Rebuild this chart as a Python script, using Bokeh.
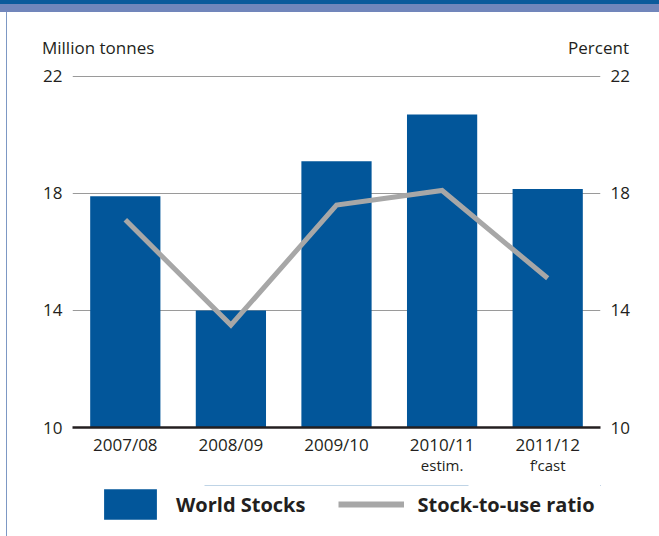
from bokeh.plotting import figure
from bokeh.models import (Range1d, LinearAxis, FixedTicker, Legend,
                          LegendItem, Div)
from bokeh.layouts import column
from bokeh.embed import file_html
from bokeh.resources import INLINE

# ---- data ----
seasons = ["2007/08", "2008/09", "2009/10", "2010/11", "2011/12"]
season_notes = ["", "", "", "estim.", "f\u2019cast"]
world_stocks = [17.9, 14.0, 19.1, 20.7, 18.15]         # million tonnes
stock_to_use = [17.1, 13.5, 17.6, 18.1, 15.1]          # percent
y_ticks = [10, 14, 18, 22]
left_title = "Million tonnes"
right_title = "Percent"
legend_labels = ["World Stocks", "Stock-to-use ratio"]

FONT = "Open Sans"
TXT = "#231f20"
BLUE = "#02569a"
GREY = "#a7a7a7"

# category slots: season i occupies [i, i+1] on the x scale
x_pos = [i + 0.5 for i in range(len(seasons))]

# ---- header (axis titles) ----
header = Div(
    text=(f'<div style="position:relative;width:659px;height:60px;font-family:\'{FONT}\';'
          f'font-size:17px;color:{TXT};white-space:nowrap;">'
          f'<span style="position:absolute;left:42px;top:38px;line-height:20px;">{left_title}</span>'
          f'<span style="position:absolute;right:30px;top:38px;line-height:20px;">{right_title}</span>'
          '</div>'),
    width=659, height=60, margin=0)

# ---- chart ----
p = figure(width=659, height=425, output_backend="svg", toolbar_location=None,
           x_range=Range1d(0, len(seasons)),
           y_range=Range1d(10, 22.03),
           min_border_left=72, min_border_right=59, min_border_top=15, min_border_bottom=58,
           margin=0)
p.outline_line_color = None
p.border_fill_color = None
p.xgrid.grid_line_color = None
p.ygrid.ticker = FixedTicker(ticks=y_ticks)
p.ygrid.grid_line_color = "#9a9a9a"
p.ygrid.grid_line_width = 1

p.extra_y_ranges = {"pct": Range1d(10, 22.03)}

bars = p.vbar(x=x_pos, top=world_stocks, bottom=10, width=0.665,
              fill_color=BLUE, line_color=None)
line = p.line(x=x_pos, y=stock_to_use, y_range_name="pct",
              line_color=GREY, line_width=5, line_join="miter")

# y axes
yl = p.yaxis[0]
yl.ticker = FixedTicker(ticks=y_ticks)
yr = LinearAxis(y_range_name="pct", ticker=FixedTicker(ticks=y_ticks))
p.add_layout(yr, "right")
for ax in (yl, yr):
    ax.axis_line_color = None
    ax.major_tick_line_color = None
    ax.minor_tick_line_color = None
    ax.major_tick_out = 0
    ax.major_label_text_font = FONT
    ax.major_label_text_font_size = "17px"
    ax.major_label_text_color = TXT
    ax.major_label_standoff = 10

# x axis (season labels)
xa = p.xaxis[0]
xa.ticker = FixedTicker(ticks=x_pos)
xa.major_label_overrides = dict(zip(x_pos, seasons))
xa.axis_line_color = TXT
xa.axis_line_width = 2.5
xa.major_tick_line_color = None
xa.minor_tick_line_color = None
xa.minor_tick_out = 0
xa.major_tick_out = 0
xa.major_label_text_font = FONT
xa.major_label_text_font_size = "17px"
xa.major_label_text_color = TXT
xa.major_label_standoff = 5

# second x axis: notes under seasons
note_ticks = [x for x, n in zip(x_pos, season_notes) if n]
xn = LinearAxis(ticker=FixedTicker(ticks=note_ticks),
                major_label_overrides={x: n for x, n in zip(x_pos, season_notes) if n})
xn.axis_line_color = None
xn.major_tick_line_color = None
xn.minor_tick_line_color = None
xn.major_tick_out = 0
xn.minor_tick_out = 0
xn.major_label_text_font = FONT
xn.major_label_text_font_size = "15px"
xn.major_label_text_color = TXT
xn.major_label_standoff = -4
p.add_layout(xn, "below")

# ---- legend strip (its frame is aligned with the chart frame by the column) ----
lg = figure(width=659, height=51, output_backend="svg", toolbar_location=None,
            x_axis_type=None, y_axis_type=None, min_border=0, margin=0,
            x_range=Range1d(0, 1), y_range=Range1d(0, 1))
lg.outline_line_color = None
lg.border_fill_color = None
lg.background_fill_color = None
lg.xgrid.visible = False
lg.ygrid.visible = False
# swatch renderers: same series, lying outside this strip's visible range
sw_bar = lg.vbar(x=x_pos, top=world_stocks, bottom=10, width=0.5,
                 fill_color=BLUE, line_color=None)
sw_line = lg.line(x=x_pos, y=stock_to_use, line_color=GREY, line_width=6, line_cap="butt")

legend = Legend(items=[LegendItem(label=legend_labels[0], renderers=[sw_bar]),
                       LegendItem(label=legend_labels[1], renderers=[sw_line])],
                orientation="horizontal", location=(25, 13),
                glyph_width=66, glyph_height=38, label_standoff=13, spacing=33,
                padding=0, margin=0, border_line_color=None,
                background_fill_alpha=0,
                label_text_font=FONT, label_text_font_style="bold",
                label_text_font_size="20px", label_text_color=TXT)
lg.add_layout(legend, "center")

layout = column(header, p, lg, spacing=0, margin=0, styles={
    "background": ("linear-gradient(to bottom, #0b5a9b 0px, #0b5a9b 4px, #7186bb 4px, "
                   "#7186bb 12px, transparent 12px), "
                   "linear-gradient(to right, transparent 6px, #7d98c4 6px, #7d98c4 7.5px, "
                   "transparent 7.5px)")})

open("out.html", "w").write(file_html(layout, INLINE))
